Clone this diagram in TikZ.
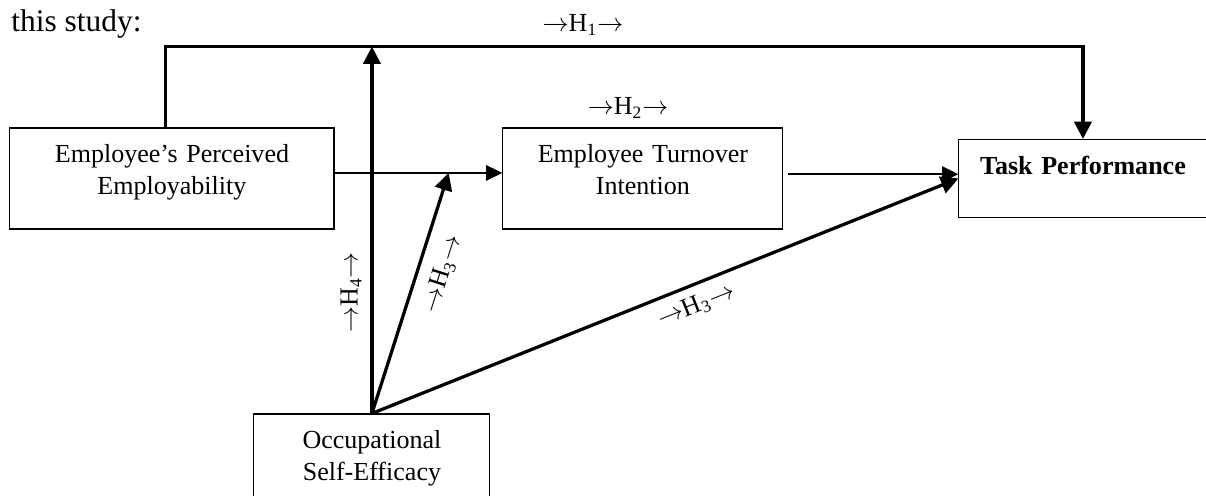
\documentclass[tikz,border=0pt]{standalone}
\usepackage{fontspec}
\setmainfont{Liberation Serif}
\usetikzlibrary{positioning,arrows.meta}

\newcommand{\hyplabel}[1]{$\rightarrow$H\textsubscript{#1}$\rightarrow$}

\begin{document}
\begin{tikzpicture}[
    node distance=2cm,
    factor/.style={rectangle, draw, line width=0.5pt, inner sep=0pt, align=center, font=\fontsize{12}{14.7}\selectfont, text height=9pt, text depth=23.3pt, minimum height=1.636cm},
    outcome/.style={rectangle, draw, line width=0.5pt, inner sep=0pt, align=center, font=\fontsize{12}{14.7}\selectfont\bfseries, text height=9pt, text depth=12.7pt, minimum height=1.264cm},
    hyp/.style={font=\fontsize{12}{14.7}\selectfont, inner sep=2pt},
    link/.style={line width=1.5pt, >={Triangle[length=8pt,width=8pt]}},
    thinlink/.style={line width=1.2pt, >={Triangle[length=7.5pt,width=7pt]}}
]
\useasboundingbox (0,0) rectangle (19.54,-8.035);
\clip (0,0) rectangle (19.54,-8.035);

% Intro text
\node[anchor=base west, inner sep=0pt, font=\fontsize{14.5}{17}\selectfont] (intro) at (0.178,-0.518) {this study:};

% Variables
\node[factor, text width=5.25cm] (epe) at (2.786,-2.892) {Employee's Perceived\\Employability};
\node[factor, text width=4.536cm, right=2.72cm of epe] (eti) {Employee Turnover\\Intention};
\node[outcome, text width=4.018cm, right=2.835cm of eti] (tp) {Task Performance};
\node[factor, text width=3.823cm, below=2.98cm of epe, xshift=3.24cm] (ose) {Occupational\\Self-Efficacy};

% Helper points
\coordinate[above=1.31cm of epe.north, xshift=-0.1cm] (top);
\coordinate[right=1.85cm of epe.east, yshift=0.09cm] (mod);

% Hypothesis labels
\node[hyp, anchor=base] (h1) at ([xshift=6.76cm, yshift=0.24cm]top) {\hyplabel{1}};
\node[hyp, anchor=base] (h2) at ([xshift=-0.24cm, yshift=0.21cm]eti.north) {\hyplabel{2}};

% Arrows
\draw[->, link] (top |- epe.north) -- (top) -| (tp.north);
\draw[->, link] (ose.north) -- node[hyp, sloped, above=2pt, pos=0.33] (h4) {\hyplabel{4}} (ose.north |- top);
\draw[->, link] (ose.north) -- node[hyp, sloped, below=4pt, pos=0.61] (h3a) {\hyplabel{3}} (mod);
\draw[->, link] (ose.north) -- node[hyp, sloped, below=2pt, pos=0.54] (h3b) {\hyplabel{3}} (tp.west);
\draw[->, thinlink] ([yshift=0.09cm]epe.east) -- ([yshift=0.09cm]eti.west);
\draw[->, thinlink, shorten <=0.08cm] ([yshift=0.07cm]eti.east) -- ([yshift=0.07cm]tp.west);

\end{tikzpicture}
\end{document}
